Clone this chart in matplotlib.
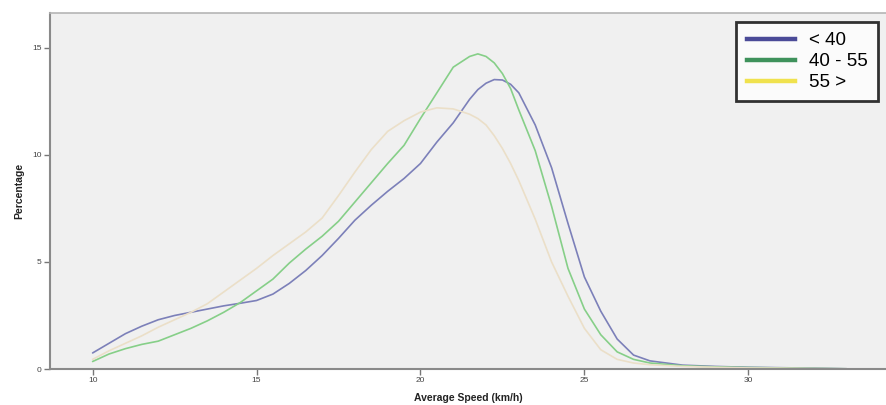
import matplotlib
matplotlib.use("Agg")
import matplotlib.pyplot as plt
from matplotlib.lines import Line2D

plt.rcParams['font.family'] = ['Liberation Sans', 'DejaVu Sans']

speed = [10, 10.5, 11, 11.5, 12, 12.5, 13, 13.5, 14, 14.5, 15, 15.5, 16, 16.5,
         17, 17.5, 18, 18.5, 19, 19.5, 20, 20.5, 21, 21.5, 21.75, 22, 22.25, 22.5,
         22.75, 23, 23.5, 24, 24.5, 25, 25.5, 26, 26.5, 27, 28, 29, 30, 31, 32, 33]

pct_lt40 = [0.75, 1.2, 1.65, 2.0, 2.3, 2.5, 2.65, 2.8, 2.95, 3.07, 3.2, 3.5, 4.0, 4.6,
            5.3, 6.1, 6.95, 7.65, 8.3, 8.9, 9.6, 10.6, 11.5, 12.6, 13.05, 13.35, 13.52, 13.5,
            13.3, 12.9, 11.4, 9.4, 6.8, 4.3, 2.7, 1.4, 0.65, 0.38, 0.18, 0.12, 0.08, 0.06,
            0.04, 0.01]

pct_40_55 = [0.35, 0.7, 0.95, 1.15, 1.3, 1.6, 1.9, 2.25, 2.65, 3.1, 3.65, 4.2, 4.95, 5.6,
             6.2, 6.9, 7.8, 8.7, 9.6, 10.45, 11.7, 12.9, 14.1, 14.6, 14.72, 14.6, 14.3, 13.8,
             13.1, 12.1, 10.2, 7.6, 4.7, 2.8, 1.6, 0.8, 0.45, 0.28, 0.15, 0.1, 0.07, 0.05,
             0.03, 0.01]

pct_gt55 = [0.45, 0.85, 1.2, 1.55, 1.95, 2.3, 2.65, 3.05, 3.6, 4.15, 4.7, 5.3, 5.85, 6.4,
            7.05, 8.1, 9.2, 10.25, 11.1, 11.6, 12.0, 12.2, 12.15, 11.9, 11.7, 11.4, 10.9, 10.3,
            9.6, 8.8, 7.0, 5.0, 3.4, 1.9, 0.9, 0.45, 0.28, 0.2, 0.12, 0.08, 0.05, 0.04,
            0.02, 0.01]

labels = ['< 40', '40 - 55', '55 >']
line_colors = ['#7c80b9', '#86cf88', '#ebdfc8']
legend_colors = ['#4b4b98', '#3f925c', '#f0e24e']
x_ticks = [10, 15, 20, 25, 30]
y_ticks = [0, 5, 10, 15]

fig = plt.figure(figsize=(8.86, 4.05), dpi=100)
ax = fig.add_axes([50/886, 36/405, 836/886, 356/405])
ax.set_facecolor('#f0f0f0')

for ys, c in zip([pct_lt40, pct_40_55, pct_gt55], line_colors):
    ax.plot(speed, ys, color=c, lw=1.2, solid_capstyle='round', solid_joinstyle='round')

ax.set_xlim(8.7, 34.2)
ax.set_ylim(0, 16.63)
ax.set_xticks(x_ticks)
ax.set_yticks(y_ticks)
ax.tick_params(axis='both', direction='out', length=4, width=1, color='#777777',
               labelsize=6, labelcolor='#444444', pad=2)

for s in ['left', 'bottom']:
    ax.spines[s].set_color('#8a8a8a')
    ax.spines[s].set_linewidth(1.5)
ax.spines['top'].set_color('#b5b5b5')
ax.spines['top'].set_linewidth(1.2)
ax.spines['right'].set_visible(False)

ax.set_xlabel('Average Speed (km/h)', fontsize=7.5, fontweight='bold', labelpad=6,
              color='#222222')
ax.set_ylabel('Percentage', fontsize=7.5, fontweight='bold', labelpad=6,
              color='#222222')

handles = [Line2D([0], [0], color=c, lw=3.2) for c in legend_colors]
leg = ax.legend(handles, labels, loc='upper right', bbox_to_anchor=(0.99, 0.975),
                fontsize=13.5, frameon=True, fancybox=False, handlelength=2.6,
                handletextpad=0.7, labelspacing=0.2, borderpad=0.55,
                borderaxespad=0)
leg.get_frame().set_edgecolor('black')
leg.get_frame().set_linewidth(2)
leg.get_frame().set_facecolor('white')

fig.savefig('out.png', dpi=100, facecolor='white')
